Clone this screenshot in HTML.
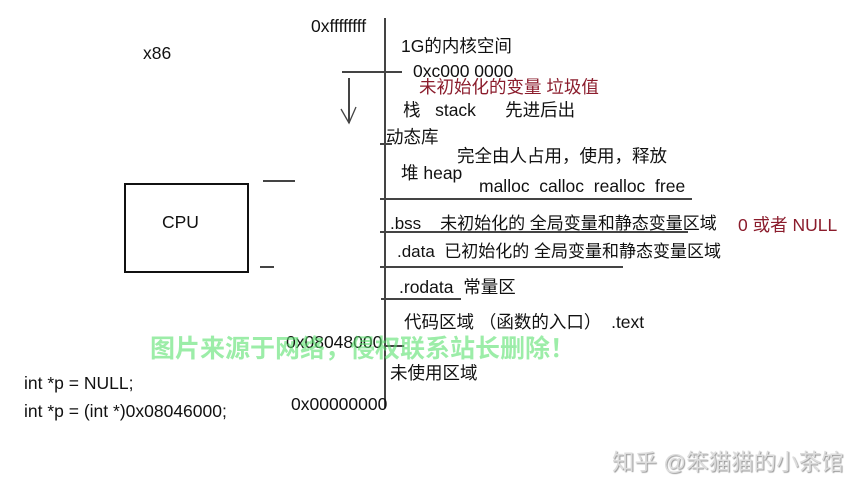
<!DOCTYPE html>
<html><head><meta charset="utf-8"><style>
body{margin:0;width:868px;height:500px;background:#fff;position:relative;overflow:hidden;font-family:"Liberation Sans","Noto Sans CJK SC",sans-serif;color:#111}
.t{position:absolute;font-size:17.5px;white-space:nowrap;line-height:1}
.l{position:absolute;background:#444}
</style></head><body>
<div class="l" style="left:384px;top:18px;width:1.5px;height:390px"></div>
<div class="l" style="left:342px;top:71px;width:60px;height:1.5px"></div>
<div class="l" style="left:380px;top:198px;width:312px;height:1.5px"></div>
<div class="l" style="left:380px;top:231px;width:308px;height:1.5px"></div>
<div class="l" style="left:380px;top:266px;width:243px;height:1.5px"></div>
<div class="l" style="left:381px;top:298px;width:80px;height:1.5px"></div>
<div class="l" style="left:380px;top:143px;width:12px;height:1.5px"></div>
<div class="l" style="left:384px;top:345px;width:20px;height:1.5px"></div>
<div class="l" style="left:263px;top:180px;width:32px;height:1.5px"></div>
<div class="l" style="left:260px;top:266px;width:14px;height:1.5px"></div>
<div class="l" style="left:348px;top:78px;width:1.5px;height:45px"></div>
<svg style="position:absolute;left:338px;top:105px" width="22" height="22"><path d="M3 4 L11 18 L18 2" stroke="#444" fill="none" stroke-width="1.3"/></svg>
<div style="position:absolute;left:124px;top:183px;width:121px;height:86px;border:2px solid #111"></div>
<div class="t" style="left:162px;top:214px">CPU</div>
<div class="t" style="left:143px;top:45px">x86</div>
<div class="t" style="left:311px;top:18px">0xffffffff</div>
<div class="t" style="left:401px;top:38px">1G的内核空间</div>
<div class="t" style="left:413px;top:63px">0xc000 0000</div>
<div class="t" style="left:419px;top:79px;color:#8b1c2c">未初始化的变量 垃圾值</div>
<div class="t" style="left:403px;top:102px">栈&nbsp;&nbsp;&nbsp;stack&nbsp;&nbsp;&nbsp;&nbsp;&nbsp;&nbsp;先进后出</div>
<div class="t" style="left:386px;top:129px">动态库</div>
<div class="t" style="left:457px;top:148px">完全由人占用，使用，释放</div>
<div class="t" style="left:401px;top:165px">堆 heap</div>
<div class="t" style="left:479px;top:178px">malloc&nbsp;&nbsp;calloc&nbsp;&nbsp;realloc&nbsp;&nbsp;free</div>
<div class="t" style="left:390px;top:215px;font-size:17px">.bss&nbsp;&nbsp;&nbsp;&nbsp;未初始化的 全局变量和静态变量区域</div>
<div class="t" style="left:738px;top:217px;color:#8b1c2c">0 或者 NULL</div>
<div class="t" style="left:397px;top:243px;font-size:17px">.data&nbsp;&nbsp;已初始化的 全局变量和静态变量区域</div>
<div class="t" style="left:399px;top:279px">.rodata&nbsp;&nbsp;常量区</div>
<div class="t" style="left:404px;top:314px">代码区域 （函数的入口）&nbsp;&nbsp;.text</div>
<div class="t" style="left:286px;top:334px">0x08048000</div>
<div class="t" style="left:150px;top:337px;font-size:25px;font-weight:bold;color:rgba(90,225,110,0.6)">图片来源于网络，侵权联系站长删除！</div>
<div class="t" style="left:390px;top:365px">未使用区域</div>
<div class="t" style="left:291px;top:396px">0x00000000</div>
<div class="t" style="left:24px;top:375px">int *p = NULL;</div>
<div class="t" style="left:24px;top:403px">int *p = (int *)0x08046000;</div>
<div class="t" style="left:612px;top:452px;font-size:22.5px;color:#ddd;text-shadow:1px 1px 1px #999">知乎 @笨猫猫的小茶馆</div>
</body></html>
